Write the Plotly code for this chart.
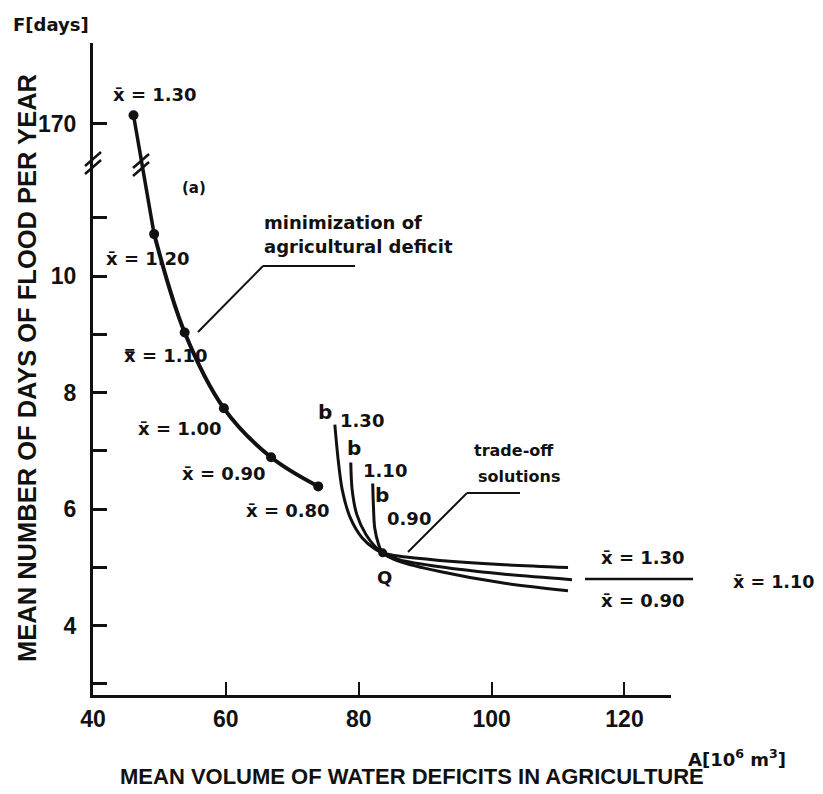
import plotly.graph_objects as go

# ---------------- data ----------------
# optimal (minimization of agricultural deficit) curve
xbar_min = ["1.30", "1.20", "1.10", "1.00", "0.90", "0.80"]
A_min = [46.1, 49.2, 53.8, 59.7, 66.8, 73.9]
F_min = [172.0, 10.72, 9.03, 7.73, 6.89, 6.39]

# trade-off solution curves (x-bar = 1.30, 1.10, 0.90)
A_t130 = [76.4, 76.9, 77.5, 78.7, 80.5, 82.4, 83.6, 86.2, 92.2, 101.3, 111.5]
F_t130 = [7.45, 6.85, 6.34, 5.86, 5.51, 5.32, 5.25, 5.19, 5.12, 5.05, 5.00]
A_t110 = [78.8, 79.0, 79.7, 81.1, 82.6, 83.6, 86.2, 92.2, 101.3, 112.1]
F_t110 = [6.80, 6.34, 5.91, 5.56, 5.34, 5.25, 5.13, 5.01, 4.89, 4.79]
A_t090 = [82.1, 82.2, 82.4, 83.0, 83.6, 86.2, 92.2, 101.3, 111.5]
F_t090 = [6.44, 6.08, 5.68, 5.39, 5.25, 5.10, 4.93, 4.74, 4.60]

Q_point = (83.6, 5.25)

x_ticks = [40, 60, 80, 100, 120]
x_ticklabels = ["40", "60", "80", "100", "120"]
y_ticks = [4, 6, 8, 10, 170]
y_ticklabels = ["4", "6", "8", "10", "170"]
y_minor = [3, 5, 7, 9, 11]

# broken y axis: values above the break are drawn compressed
BREAK_BASE = 12.61
def fy(v):
    return v if v < 50 else BREAK_BASE + (v - 170) * 0.075

# ---------------- layout geometry (pixels) ----------------
OFF = 8                      # page body margin
W, H = 815, 786
L, R, T, B = 85, 152, 35, 99
PW, PH = W - L - R, H - T - B
def px(x):
    return (x - OFF - L) / PW
def py(y):
    return (H - B - (y - OFF)) / PH

FONT = "DejaVu Sans"
SANS = "Liberation Sans"
BLACK = "#111111"

fig = go.Figure()

# main curve: straight broken segment 1.30 -> 1.20, then smooth
fig.add_trace(go.Scatter(x=A_min[:2], y=[fy(v) for v in F_min[:2]], mode="lines",
                         line=dict(color=BLACK, width=3.5), hoverinfo="skip"))
fig.add_trace(go.Scatter(x=A_min[1:], y=[fy(v) for v in F_min[1:]], mode="lines",
                         line=dict(color=BLACK, width=4, shape="spline", smoothing=1.0),
                         hoverinfo="skip"))
fig.add_trace(go.Scatter(x=A_min, y=[fy(v) for v in F_min], mode="markers",
                         marker=dict(color=BLACK, size=10), text=xbar_min))

for ax_, fy_ in [(A_t130, F_t130), (A_t110, F_t110), (A_t090, F_t090)]:
    fig.add_trace(go.Scatter(x=ax_, y=fy_, mode="lines",
                             line=dict(color=BLACK, width=3, shape="spline", smoothing=0.8),
                             hoverinfo="skip"))
fig.add_trace(go.Scatter(x=[Q_point[0]], y=[Q_point[1]], mode="markers",
                         marker=dict(color=BLACK, size=9)))

shapes = []
def seg(x0, y0, x1, y1, w=2):
    shapes.append(dict(type="line", xref="paper", yref="paper",
                       x0=px(x0), y0=py(y0), x1=px(x1), y1=py(y1),
                       line=dict(color=BLACK, width=w)))

# break marks on axis and on curve
for dy in (-4, 4):
    seg(85, 170 + dy, 101, 156 + dy, 2.5)
    seg(133, 172 + dy, 149, 158 + dy, 2.5)
# leader lines
seg(198, 332, 263, 266); seg(263, 266, 355, 266)
seg(408, 552, 467, 493); seg(467, 493, 520, 493)
# right-side fraction line
seg(585, 579, 693, 579, 2.5)

ann = []
def txt(x, y, s, size=18, anchor="left", angle=0, family=FONT):
    ann.append(dict(x=px(x), y=py(y), xref="paper", yref="paper", text=s,
                    showarrow=False, xanchor=anchor, yanchor="middle", textangle=angle,
                    borderpad=0,
                    font=dict(family=family, size=size, color=BLACK, weight="bold")))

XB = "x\u0304"
txt(12, 25, "F[days]", 18)
txt(27, 368, "MEAN NUMBER OF DAYS OF FLOOD PER YEAR", 25.5, "center", -90, SANS)
txt(412, 776, "MEAN VOLUME OF WATER DEFICITS IN AGRICULTURE", 22, "center", 0, SANS)
txt(737, 758, "A[10<sup>6</sup> m<sup>3</sup>]", 18, "center")
txt(181, 188, "(a)", 15)
txt(263, 223, "minimization of", 18)
txt(263, 247, "agricultural deficit", 18)
txt(514, 451, "trade-off", 16, "center")
txt(519, 476, "solutions", 16, "center")
txt(112, 95, XB + " = 1.30", 18)
txt(105, 258, XB + " = 1.20", 18)
txt(123, 355, "x\u033f = 1.10", 18)
txt(137, 428, XB + " = 1.00", 18)
txt(181, 473, XB + " = 0.90", 18)
txt(245, 510, XB + " = 0.80", 18)
txt(325, 412, "b", 20, "center")
txt(339, 420, "1.30", 18)
txt(354, 448, "b", 20, "center")
txt(362, 470, "1.10", 18)
txt(382, 495, "b", 20, "center")
txt(386, 518, "0.90", 18)
txt(384, 577, "Q", 18, "center")
txt(600, 557, XB + " = 1.30", 18)
txt(600, 600, XB + " = 0.90", 18)
txt(732, 582, XB + " = 1.10", 17.5)

tickfont = dict(family=SANS, size=23, color=BLACK, weight="bold")
fig.update_layout(
    width=W, height=H, margin=dict(l=L, r=R, t=T, b=B),
    paper_bgcolor="white", plot_bgcolor="white", showlegend=False,
    font=dict(family=FONT, color=BLACK),
    shapes=shapes, annotations=ann,
    xaxis=dict(range=[40, 127], tickvals=x_ticks, ticktext=x_ticklabels,
               ticks="inside", ticklen=13, tickwidth=1.5, tickcolor=BLACK,
               showline=True, linecolor=BLACK, linewidth=3, showgrid=False, zeroline=False,
               tickfont=tickfont, ticklabelstandoff=1),
    yaxis=dict(range=[2.81, 14.0], tickvals=[fy(v) for v in y_ticks], ticktext=y_ticklabels,
               ticks="inside", ticklen=14, tickwidth=2.5, tickcolor=BLACK,
               minor=dict(tickvals=y_minor, ticks="inside", ticklen=14, tickwidth=2.5,
                          tickcolor=BLACK, showgrid=False),
               showline=True, linecolor=BLACK, linewidth=3, showgrid=False, zeroline=False,
               tickfont=tickfont, ticklabelstandoff=9),
)

fig.write_html("out.html")
